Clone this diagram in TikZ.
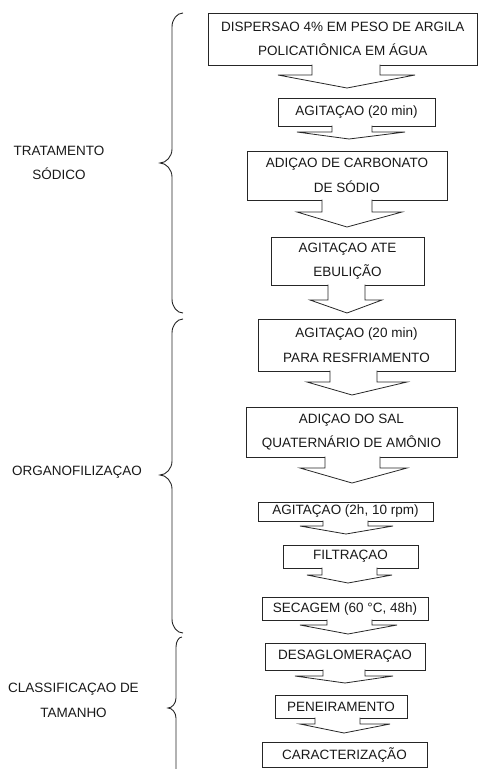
\documentclass[tikz,border=0pt]{standalone}
\usepackage{fontspec}
\setmainfont{Liberation Sans}
\tikzset{
  box/.style={draw=black!85, line width=0.8pt, fill=white, inner sep=0pt, align=center,
    font=\fontsize{13.5}{24.5}\selectfont, text=black!90, anchor=center},
  lbl/.style={align=center, inner sep=0pt, font=\fontsize{13.5}{24.5}\selectfont, text=black!90},
  barrow/.style={draw=black!85, line width=0.8pt, fill=white, line join=miter},
  bracestyle/.style={draw=black!85, line width=0.9pt}
}
% #1 from node, #2 stem left, #3 stem right, #4 wing left, #5 wing right, #6 tip x, #7 stem bottom y, #8 tip y
\newcommand{\blockarrow}[8]{%
  \path[barrow] (#2,0 |- #1.south) ++(0,-0.7) -- (#2,#7) -- (#4,#7) -- (#6,#8) -- (#5,#7) -- (#3,#7)
    -- (#3,0 |- #1.south) -- ++(0,-0.7);}
% #1 xr, #2 xv, #3 xt, #4 ytop, #5 ymid, #6 ybot, #7 r
\newcommand{\mybrace}[7]{%
  \draw[bracestyle] (#1,#4) .. controls ({#2+0.45*(#1-#2)},#4) and (#2,{#4+0.45*#7}) .. (#2,{#4+#7})
    -- (#2,{#5-#7}) .. controls (#2,{#5-0.45*#7}) and ({#3+0.5*(#2-#3)},#5) .. (#3,#5)
    .. controls ({#3+0.5*(#2-#3)},#5) and (#2,{#5+0.45*#7}) .. (#2,{#5+#7})
    -- (#2,{#6-#7}) .. controls (#2,{#6-0.45*#7}) and ({#2+0.45*(#1-#2)},#6) .. (#1,#6);}
\begin{document}
\begin{tikzpicture}[x=1pt,y=-1pt]
\useasboundingbox (0,0) rectangle (477,769);
% boxes
\node[box, minimum width=269.5pt, minimum height=52pt] (b1) at (342.75,39) {DISPERSAO 4\% EM PESO DE ARGILA\\POLICATIÔNICA EM ÁGUA};
\node[box, minimum width=157pt, minimum height=28pt] (b2) at (356.5,112) {AGITAÇAO (20 min)};
\node[box, minimum width=200pt, minimum height=49pt] (b3) at (347,175.5) {ADIÇAO DE CARBONATO\\DE SÓDIO};
\node[box, minimum width=153pt, minimum height=48pt] (b4) at (347.5,261) {AGITAÇAO ATE\\EBULIÇÃO};
\node[box, minimum width=197pt, minimum height=52pt] (b5) at (356.5,345) {AGITAÇAO (20 min)\\PARA RESFRIAMENTO};
\node[box, minimum width=211pt, minimum height=50pt] (b6) at (351.5,432) {ADIÇAO DO SAL\\QUATERNÁRIO DE AMÔNIO};
\node[box, minimum width=175pt, minimum height=19pt] (b7) at (345.5,511.5) {AGITAÇAO (2h, 10 rpm)};
\node[box, minimum width=135pt, minimum height=23pt] (b8) at (350.5,556.5) {FILTRAÇAO};
\node[box, minimum width=166pt, minimum height=23pt] (b9) at (345,608.5) {SECAGEM (60 °C, 48h)};
\node[box, minimum width=160pt, minimum height=27pt] (b10) at (345,656.5) {DESAGLOMERAÇAO};
\node[box, minimum width=132pt, minimum height=23pt] (b11) at (341,706.5) {PENEIRAMENTO};
\node[box, minimum width=165pt, minimum height=25pt] (b12) at (344.5,754.5) {CARACTERIZAÇÃO};
% block arrows
\blockarrow{b1}{312}{380}{278}{415}{347}{75}{88}
\blockarrow{b2}{332}{372}{297}{405}{349}{132}{139}
\blockarrow{b3}{322}{372}{297}{402}{347}{212}{227}
\blockarrow{b4}{328}{365}{310}{382}{347}{300}{313}
\blockarrow{b5}{330}{377}{307}{407}{352}{382}{395}
\blockarrow{b6}{325}{380}{300}{407}{352}{468}{483}
\blockarrow{b7}{323}{368}{300}{393}{346}{526}{534}
\blockarrow{b8}{322}{377}{307}{392}{348}{575}{583}
\blockarrow{b9}{327}{372}{300}{397}{348}{625}{634}
\blockarrow{b10}{323}{365}{295}{393}{345}{676}{683}
\blockarrow{b11}{315}{360}{300}{390}{344}{724}{733}
% braces
\mybrace{183}{172}{160}{13}{163}{313}{14}
\mybrace{183}{172}{160}{319}{475}{633}{14}
\mybrace{182}{176}{168}{637}{708}{779}{10}
% labels
\node[lbl] (l1) at (59,163) {TRATAMENTO\\SÓDICO};
\node[lbl] (l2) at (77,472) {ORGANOFILIZAÇAO};
\node[lbl] (l3) at (73.5,700.5) {CLASSIFICAÇAO DE\\TAMANHO};
\end{tikzpicture}
\end{document}
